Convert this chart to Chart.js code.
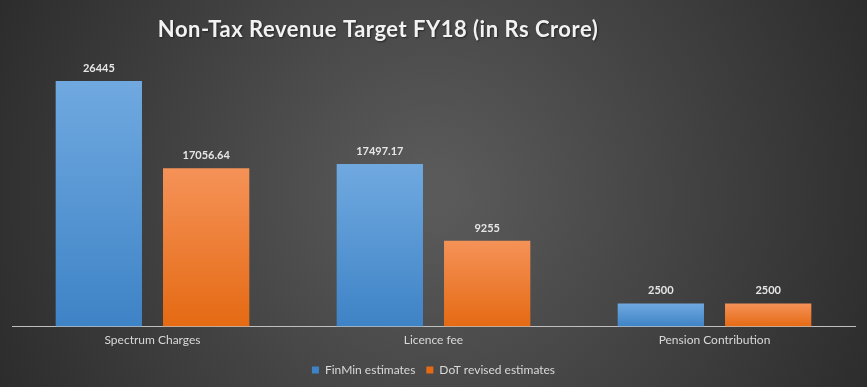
<!DOCTYPE html>
<html>
<head>
<meta charset="utf-8">
<script src="https://cdn.jsdelivr.net/npm/chart.js@4"></script>
<style>
  html, body { margin: 0; padding: 0; background: #3a3a3a; }
  #wrap { width: 867px; height: 387px; }
</style>
</head>
<body>
<div id="wrap"><canvas id="revenueChart" width="867" height="387"></canvas></div>
<script>
const categories = ['Spectrum Charges', 'Licence fee', 'Pension Contribution'];
const finMinEstimates = [26445, 17497.17, 2500];
const dotRevisedEstimates = [17056.64, 9255, 2500];
const valueLabels = [
  ['26445', '17497.17', '2500'],
  ['17056.64', '9255', '2500']
];
const chartTitle = 'Non-Tax Revenue Target FY18 (in Rs Crore)';

// background: dark grey with a lighter centre, plus the title (sits left of centre)
const bgPlugin = {
  id: 'bg',
  beforeDraw(chart) {
    const { ctx, width, height } = chart;
    const g = ctx.createRadialGradient(width / 2, height / 2, 20, width / 2, height / 2, width * 0.62);
    g.addColorStop(0, '#5a5a5a');
    g.addColorStop(1, '#262626');
    ctx.save();
    ctx.fillStyle = g;
    ctx.fillRect(0, 0, width, height);
    ctx.font = 'bold 22px Lato';
    ctx.letterSpacing = '0.5px';
    ctx.fillStyle = '#f2f2f2';
    ctx.textAlign = 'center';
    ctx.textBaseline = 'middle';
    ctx.shadowColor = 'rgba(0,0,0,0.5)';
    ctx.shadowOffsetX = 1;
    ctx.shadowOffsetY = 1;
    ctx.shadowBlur = 2;
    ctx.fillText(chartTitle, 378, 30);
    ctx.restore();
  }
};

// value labels above each bar
const valuePlugin = {
  id: 'values',
  afterDatasetsDraw(chart) {
    const { ctx } = chart;
    ctx.save();
    ctx.font = 'bold 11px Lato';
    ctx.fillStyle = '#e6e6e6';
    ctx.textAlign = 'center';
    ctx.textBaseline = 'bottom';
    chart.data.datasets.forEach((ds, i) => {
      chart.getDatasetMeta(i).data.forEach((bar, j) => {
        ctx.fillText(valueLabels[i][j], bar.x, bar.y - 7);
      });
    });
    ctx.restore();
  }
};

// gradient runs over each bar's own height
function barGradient(top, bottom) {
  return (c) => {
    const chart = c.chart;
    if (!chart.chartArea || c.raw == null) return bottom;
    const y = chart.scales.y;
    const g = chart.ctx.createLinearGradient(0, y.getPixelForValue(c.raw), 0, y.getPixelForValue(0));
    g.addColorStop(0, top);
    g.addColorStop(1, bottom);
    return g;
  };
}

const ctx = document.getElementById('revenueChart').getContext('2d');
new Chart(ctx, {
  type: 'bar',
  data: {
    labels: categories,
    datasets: [{
      label: 'FinMin estimates',
      data: finMinEstimates,
      backgroundColor: barGradient('#70a9e0', '#3e83c6'),
      borderWidth: 0
    }, {
      label: 'DoT revised estimates',
      data: dotRevisedEstimates,
      backgroundColor: barGradient('#f59258', '#e56a13'),
      borderWidth: 0
    }]
  },
  options: {
    responsive: false,
    animation: false,
    categoryPercentage: 0.764,
    barPercentage: 0.804,
    layout: { padding: { left: 12, right: 12, top: 61, bottom: 1 } },
    plugins: {
      title: { display: false },
      legend: {
        position: 'bottom',
        labels: {
          color: '#d9d9d9',
          font: { family: 'Lato', size: 12 },
          boxWidth: 7,
          boxHeight: 7,
          padding: 11
        }
      },
      tooltip: { enabled: false }
    },
    scales: {
      x: {
        grid: { display: false, drawTicks: false },
        border: { display: true, color: '#bfbfbf', width: 1 },
        ticks: { color: '#d9d9d9', font: { family: 'Lato', size: 12 }, padding: 6 }
      },
      y: {
        display: false,
        min: 0,
        max: 28600
      }
    }
  },
  plugins: [bgPlugin, valuePlugin]
});
</script>
</body>
</html>
